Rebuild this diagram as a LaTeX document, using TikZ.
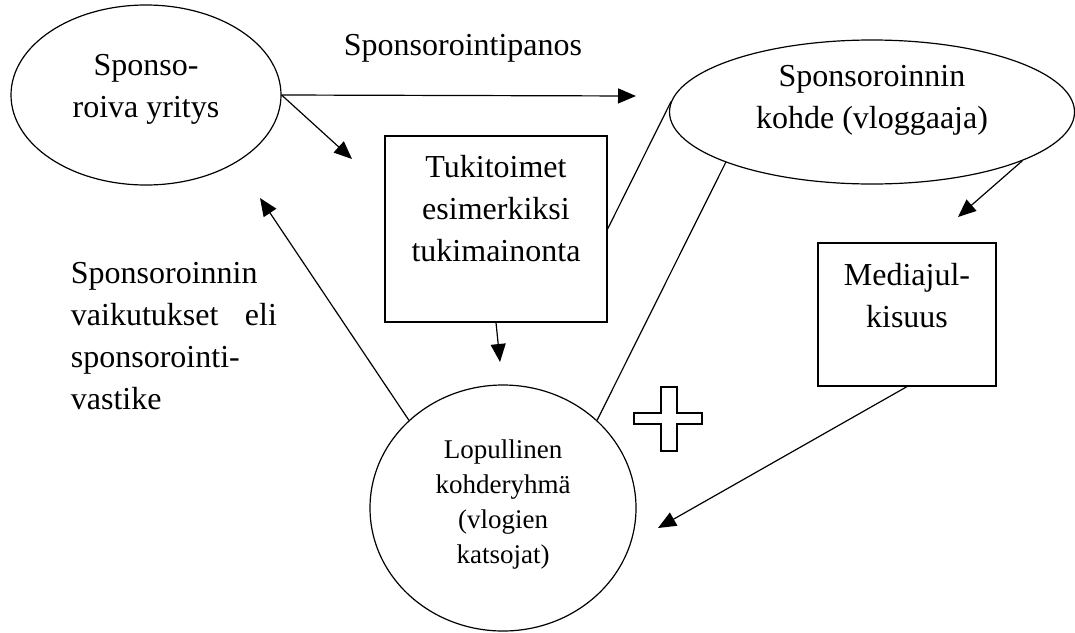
\documentclass[tikz,border=0pt]{standalone}
\usepackage{fontspec}
\setmainfont{Liberation Serif}
\usetikzlibrary{shapes.geometric,arrows.meta,calc}

\begin{document}
\begin{tikzpicture}[x=1pt, y=-1pt, line width=1.2pt,
  every node/.style={font=\fontsize{32}{42}\selectfont, align=center},
  oval/.style={draw, ellipse, inner sep=0pt},
  box/.style={draw, rectangle, inner sep=0pt},
  arr/.style={-{Triangle[length=18pt, width=15pt]}}]
  \useasboundingbox (0,0) rectangle (1075,632);

  % Parties
  \node[oval, minimum width=270pt, minimum height=180pt, text depth=19pt]
    (yritys) at (146,95) {Sponso-\\roiva yritys};
  \node[oval, minimum width=405pt, minimum height=144pt, text depth=30pt]
    (kohde) at (872,112) {Sponsoroinnin\\kohde (vloggaaja)};
  \node[oval, minimum width=266pt, minimum height=246pt, text depth=13pt,
    font=\fontsize{27}{35}\selectfont]
    (ryhma) at (503,508) {Lopullinen\\kohderyhmä\\(vlogien\\katsojat)};

  % Boxes
  \node[box, minimum width=222pt, minimum height=186pt, text depth=41pt]
    (tuki) at (496,229) {Tukitoimet\\esimerkiksi\\tukimainonta};
  \node[box, minimum width=178pt, minimum height=143pt, text depth=39pt]
    (media) at (907,314.5) {Mediajul-\\kisuus};

  % Free labels
  \node[anchor=base] (panos) at (463,55) {Sponsorointipanos};
  \node[anchor=base west, text width=206pt, align=justify] (vastike) at (67,283)
    {Sponsoroinnin\\vaikutukset\hfill eli\\sponsorointi-\\vastike};

  % Arrow ends
  \coordinate (panosTip) at (636,96);
  \coordinate (tukiTip) at (352,159);
  \coordinate (ryhmaTip) at (500,362);
  \coordinate (vastikeTip) at (260,198);
  \coordinate (mediaTip) at (958,217);
  \coordinate (julkTip) at (658,528);

  % Connectors
  \draw[arr] (yritys.east) -- (panosTip);
  \draw[arr] (yritys.east) -- (tukiTip);
  \draw[arr] (tuki.south) -- (ryhmaTip);
  \draw[arr] (ryhma.137) -- (vastikeTip);
  \draw[arr] (kohde.342) -- (mediaTip);
  \draw[arr] (media.south) -- (julkTip);
  \draw (tuki.east) -- (kohde.177);
  \draw (kohde.199) -- (ryhma.43);

  % Plus sign
  \draw (661,387) -- (677,387) -- (677,413) -- (702,413) -- (702,424)
    -- (677,424) -- (677,451) -- (661,451) -- (661,424) -- (634,424)
    -- (634,413) -- (661,413) -- cycle;
\end{tikzpicture}
\end{document}
